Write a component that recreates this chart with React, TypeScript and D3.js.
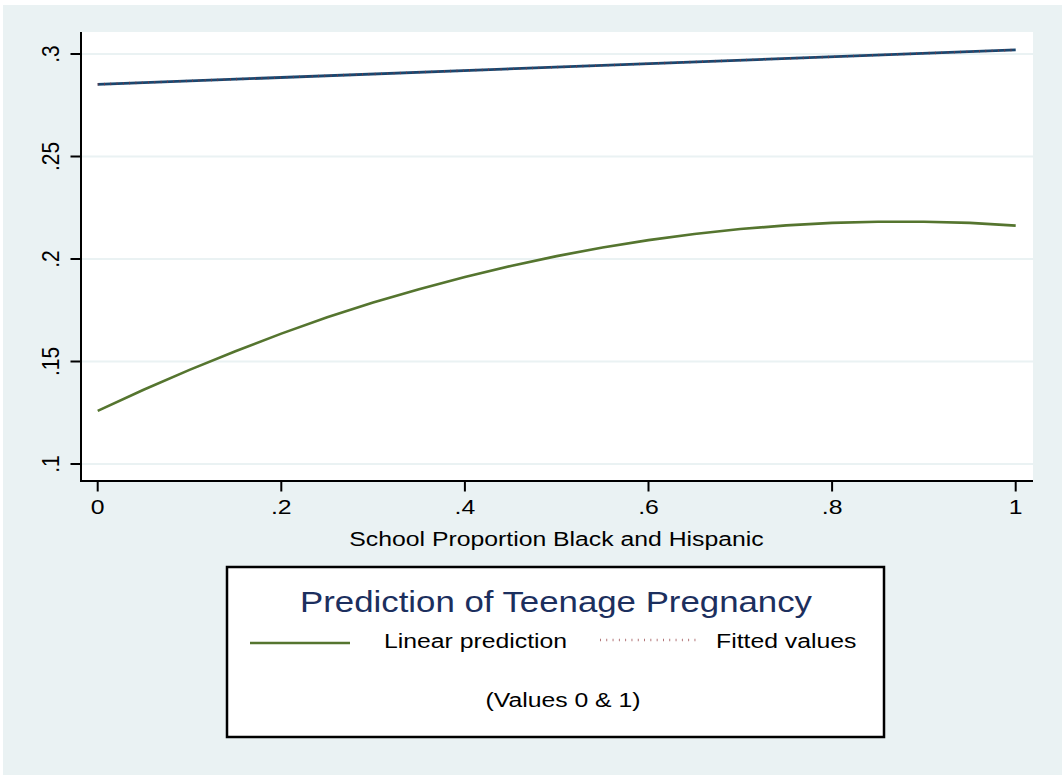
import React from "react";
import * as d3 from "d3";

const xTicks = [0, 0.2, 0.4, 0.6, 0.8, 1];
const xTickLabels = ["0", ".2", ".4", ".6", ".8", "1"];
const yTicks = [0.1, 0.15, 0.2, 0.25, 0.3];
const yTickLabels = [".1", ".15", ".2", ".25", ".3"];

const curveX = [0, 0.05, 0.1, 0.15, 0.2, 0.25, 0.3, 0.35, 0.4, 0.45, 0.5, 0.55, 0.6, 0.65, 0.7, 0.75, 0.8, 0.85, 0.9, 0.95, 1];
const linearPrediction = [0.1259, 0.1362, 0.1459, 0.155, 0.1636, 0.1716, 0.1788, 0.1853, 0.1912, 0.1966, 0.2014, 0.2056, 0.2092, 0.2122, 0.2146, 0.2164, 0.2176, 0.2182, 0.2182, 0.2176, 0.2163];

const topX = [0, 1];
const topLinear = [0.2852, 0.302];
const fittedValues = [0.2852, 0.302];

const legendTitle = "Prediction of Teenage Pregnancy";
const legendLabels = ["Linear prediction", "Fitted values"];
const legendNote = "(Values 0 & 1)";
const xTitle = "School Proportion Black and Hispanic";

const W = 1062;
const H = 782;
const plot = { left: 80, right: 1033, top: 32, bottom: 481 };
const SX = 1.18;
const FONT = "'Liberation Sans', Arial, Helvetica, sans-serif";

const NAVY = "#1a476f";
const MAROON = "#90353b";
const GREEN = "#55752f";
const BG = "#eaf2f3";

export default function App() {
  const x = d3.scaleLinear().domain([0, 1]).range([97.7, 1015.7]);
  const y = d3.scaleLinear().domain([0.1, 0.3]).range([464, 54]);
  const line = d3
    .line<[number, number]>()
    .x((d) => x(d[0]))
    .y((d) => y(d[1]));

  const greenPts = curveX.map((v, i) => [v, linearPrediction[i]] as [number, number]);
  const navyPts = topX.map((v, i) => [v, topLinear[i]] as [number, number]);
  const fitPts = topX.map((v, i) => [v, fittedValues[i]] as [number, number]);

  const T = (props: {
    x: number;
    y: number;
    children: React.ReactNode;
    size?: number;
    anchor?: string;
    rotate?: boolean;
    fill?: string;
  }) => (
    <g transform={`translate(${props.x},${props.y}) scale(${SX},1)${props.rotate ? " rotate(-90)" : ""}`}>
      <text
        fontFamily={FONT}
        fontSize={props.size ?? 21}
        textAnchor={props.anchor ?? "start"}
        fill={props.fill ?? "#000"}
      >
        {props.children}
      </text>
    </g>
  );

  return (
    <svg
      width={W}
      height={H}
      style={{ position: "absolute", left: 0, top: 0, background: "#fff" }}
    >
      <rect x={3} y={5} width={W - 3} height={770} fill={BG} />
      <rect x={plot.left} y={plot.top} width={plot.right - plot.left} height={plot.bottom - plot.top} fill="#fff" />

      {/* gridlines */}
      {yTicks.map((t) => (
        <line key={"g" + t} x1={plot.left} x2={plot.right} y1={y(t)} y2={y(t)} stroke={BG} strokeWidth={2} />
      ))}

      {/* series */}
      <path d={line(greenPts) ?? ""} fill="none" stroke={GREEN} strokeWidth={2.6} />
      <path d={line(navyPts) ?? ""} fill="none" stroke={NAVY} strokeWidth={2.8} />
      <path d={line(fitPts) ?? ""} fill="none" stroke={MAROON} strokeWidth={2.6} strokeDasharray="0.9 5.4" strokeOpacity={0.75} />

      {/* axes */}
      <line x1={plot.left + 1} x2={plot.left + 1} y1={plot.top} y2={plot.bottom + 1} stroke="#000" strokeWidth={2} />
      <line x1={plot.left} x2={plot.right} y1={plot.bottom} y2={plot.bottom} stroke="#000" strokeWidth={2} />

      {yTicks.map((t, i) => (
        <g key={"yt" + t}>
          <line x1={70.5} x2={plot.left + 1} y1={y(t)} y2={y(t)} stroke="#000" strokeWidth={2} />
          <T x={59} y={y(t)} anchor="middle" rotate>
            {yTickLabels[i]}
          </T>
        </g>
      ))}
      {xTicks.map((t, i) => (
        <g key={"xt" + t}>
          <line x1={x(t)} x2={x(t)} y1={plot.bottom} y2={491.5} stroke="#000" strokeWidth={2} />
          <T x={x(t)} y={513.5} anchor="middle">
            {xTickLabels[i]}
          </T>
        </g>
      ))}

      <T x={556.5} y={546} anchor="middle">
        {xTitle}
      </T>

      {/* legend */}
      <rect x={227} y={567} width={657} height={170} fill="#fff" stroke="#000" strokeWidth={2.5} />
      <T x={556} y={612} anchor="middle" size={29.5} fill="#1c2f5e">
        {legendTitle}
      </T>
      <line x1={250} x2={350} y1={643} y2={643} stroke={GREEN} strokeWidth={2.6} />
      <T x={384} y={648} anchor="start">
        {legendLabels[0]}
      </T>
      <line x1={600} x2={700} y1={640} y2={640} stroke={MAROON} strokeWidth={2.6} strokeDasharray="0.9 5.4" strokeOpacity={0.75} />
      <T x={716} y={648} anchor="start">
        {legendLabels[1]}
      </T>
      <T x={563} y={707} anchor="middle">
        {legendNote}
      </T>
    </svg>
  );
}
